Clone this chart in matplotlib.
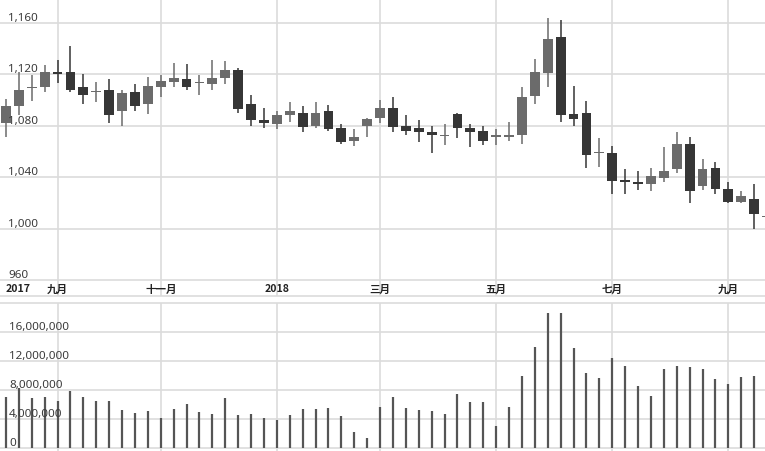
import matplotlib
matplotlib.use('Agg')
import matplotlib.pyplot as plt
import numpy as np

# weekly candles (index = week number on the chart)
opens = [1082, 1095, 1109, 1110, 1122, 1122, 1110, 1106, 1108, 1091,
         1106, 1097, 1110, 1114, 1116, 1113, 1112, 1117, 1123, 1097,
         1084, 1081, 1088, 1090, 1080, 1091, 1078, 1068, 1080, 1086,
         1094, 1080, 1078, 1075, 1072, 1089, 1078, 1076, 1071, 1071,
         1073, 1103, 1121, 1149, 1089, 1090, 1058.5, 1059, 1038, 1036.5,
         1035, 1039, 1046, 1066, 1033, 1047, 1031, 1021, 1023, 1009]
highs = [1101, 1122, 1119, 1127, 1131, 1142, 1120, 1114, 1116, 1108,
         1112, 1118, 1119, 1129, 1128, 1119, 1131, 1130, 1125, 1104,
         1094, 1091, 1098, 1095, 1098, 1096, 1081, 1077, 1086, 1100,
         1102, 1088, 1084, 1080, 1081, 1090, 1081, 1080, 1077, 1083,
         1110, 1132, 1164, 1162, 1111, 1099, 1070, 1064, 1046, 1045,
         1047, 1063, 1075, 1071, 1054, 1052, 1036, 1029, 1035, 1011]
lows = [1071, 1088, 1099, 1106, 1113, 1106, 1097, 1098, 1082, 1080,
        1091, 1089, 1102, 1110, 1108, 1104, 1108, 1112, 1090, 1080,
        1078, 1077, 1083, 1075, 1078, 1076, 1066, 1064, 1071, 1082,
        1075, 1073, 1067, 1059, 1065, 1070, 1063, 1065, 1065, 1068,
        1066, 1097, 1110, 1083, 1080, 1047, 1048, 1027, 1027, 1030,
        1029, 1036, 1043, 1020, 1030, 1027, 1020, 1020, 1000, 1007]
closes = [1095, 1108, 1110, 1122, 1120, 1108, 1104, 1107, 1088, 1105,
          1095, 1111, 1115, 1117, 1110, 1114, 1117, 1123, 1093, 1084,
          1082, 1088, 1091, 1079, 1090, 1077, 1067, 1071, 1085, 1094,
          1079, 1076, 1075, 1073, 1073, 1078, 1075, 1068, 1073, 1073,
          1102, 1122, 1147, 1088, 1085, 1057, 1059.5, 1037, 1036, 1034.5,
          1041, 1045, 1066, 1029, 1046, 1031, 1021, 1025, 1011, 1010]
volumes = [7030000, 8190000, 6810000, 7030000, 6500000, 7820000, 6950000, 6490000, 6400000, 5160000,
           4830000, 5060000, 4140000, 5380000, 5990000, 4880000, 4610000, 6860000, 4550000, 4690000,
           4140000, 3780000, 4510000, 5340000, 5340000, 5430000, 4370000, 2120000, 1290000, 5570000,
           7030000, 5430000, 5200000, 5110000, 4610000, 7450000, 6300000, 6260000, 3040000, 5660000,
           9890000, 13930000, 18540000, 18540000, 13710000, 10260000, 9570000, 12410000, 11270000, 8550000,
           7170000, 10810000, 11310000, 11090000, 10860000, 9430000, 8790000, 9710000, 9930000, 6000000]

month_pos = [4, 12, 21, 29, 38, 47, 56]
month_labels = ['九月', '十一月', '2018', '三月', '五月', '七月', '九月']
year_start_label = '2017'

price_ticks = [960, 1000, 1040, 1080, 1120, 1160]
volume_ticks = [0, 4000000, 8000000, 12000000, 16000000]

UP = '#6b6b6b'
DOWN = '#363636'
GRID = '#dcdcdc'
LABEL = '#3c3c3c'
FONT = ['Noto Sans', 'Noto Sans CJK SC', 'DejaVu Sans']

fig = plt.figure(figsize=(7.65, 4.51), dpi=100)
ax = fig.add_axes([0, 1 - 296 / 451, 1, 296 / 451])
axv = fig.add_axes([0, 0, 1, 148 / 451])

x = np.arange(len(opens))
xlim = (-0.465, 58.84)

# candles
for i in x:
    o, h, l, c = opens[i], highs[i], lows[i], closes[i]
    col = UP if c >= o else DOWN
    ax.vlines(i, l, h, color=col, lw=1.1, zorder=2)
    body = max(abs(c - o), 1.0)
    ax.bar(i, body, bottom=min(o, c), width=0.76, color=col, zorder=3)

# volume
axv.vlines(x, 0, volumes, color='#555555', lw=1.6, zorder=2)

for a in (ax, axv):
    a.set_xlim(*xlim)
    a.set_xticks(month_pos)
    a.tick_params(length=0, labelbottom=False, labelleft=False)
    a.grid(True, color=GRID, lw=1.2)
    a.set_axisbelow(True)
    for s in a.spines.values():
        s.set_visible(False)

ax.set_ylim(947.6, 1177.6)
ax.set_yticks(price_ticks)
ax.spines['bottom'].set_visible(True)
ax.spines['bottom'].set_color(GRID)
ax.spines['bottom'].set_linewidth(1.2)

axv.set_ylim(-455000, 19960000)
axv.set_yticks(volume_ticks)
axv.spines['top'].set_visible(True)
axv.spines['top'].set_color(GRID)
axv.spines['top'].set_linewidth(1.2)

# y labels drawn inside the plot, just above each grid line
for v in price_ticks:
    ax.annotate(f'{v:,}', xy=(8 / 765, v), xycoords=ax.get_yaxis_transform(),
                xytext=(0, 2), textcoords='offset pixels', va='baseline', ha='left',
                fontsize=8.4, color=LABEL, family=FONT, zorder=5)
for v in volume_ticks:
    axv.annotate(f'{v:,}', xy=(9 / 765, v), xycoords=axv.get_yaxis_transform(),
                 xytext=(0, 2), textcoords='offset pixels', va='baseline', ha='left',
                 fontsize=8.4, color=LABEL, family=FONT, zorder=5)

# month labels
xt = ax.get_xaxis_transform()
ax.text(0, 0.022, year_start_label, transform=xt, ha='left', va='center',
        fontsize=7.6, fontweight='bold', color='#222222', family=['Noto Sans CJK SC', 'DejaVu Sans'])
for p, lab in zip(month_pos, month_labels):
    ax.text(p, 0.022, lab, transform=xt, ha='center', va='center',
            fontsize=7.6, fontweight='bold', color='#222222', family=['Noto Sans CJK SC', 'DejaVu Sans'])

fig.savefig('out.png', dpi=100)
